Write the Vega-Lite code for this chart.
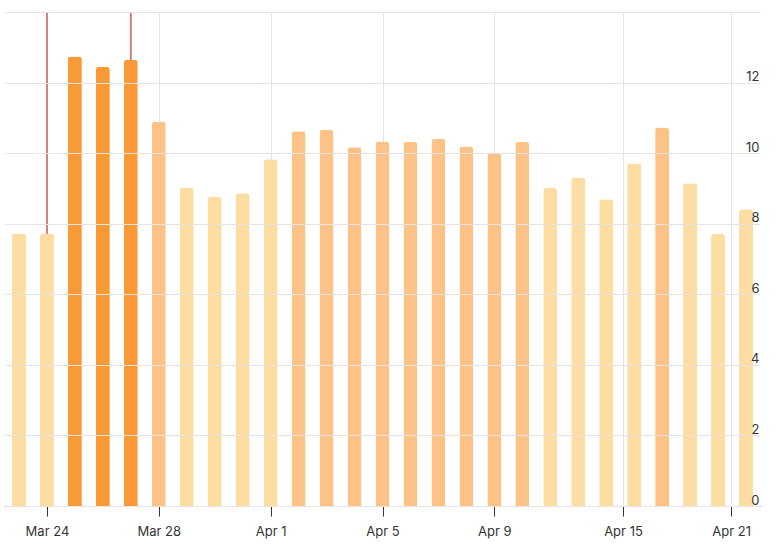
{
  "$schema": "https://vega.github.io/schema/vega-lite/v6.json",
  "width": 755,
  "height": 494,
  "autosize": {"type": "none"},
  "padding": {"left": 5, "top": 12, "right": 16, "bottom": 46},
  "background": "white",
  "config": {
    "view": {"stroke": null},
    "font": "Inter",
    "axis": {
      "labelFont": "Inter",
      "labelFontSize": 13,
      "labelColor": "#333333",
      "gridColor": "#e7e3e3",
      "gridWidth": 1
    }
  },
  "datasets": {
    "daily": [
      {"date": "2020-03-23", "value": 7.72},
      {"date": "2020-03-24", "value": 7.72},
      {"date": "2020-03-25", "value": 12.74},
      {"date": "2020-03-26", "value": 12.45},
      {"date": "2020-03-27", "value": 12.65},
      {"date": "2020-03-28", "value": 10.89},
      {"date": "2020-03-29", "value": 9.02},
      {"date": "2020-03-30", "value": 8.76},
      {"date": "2020-03-31", "value": 8.86},
      {"date": "2020-04-01", "value": 9.83},
      {"date": "2020-04-02", "value": 10.62},
      {"date": "2020-04-03", "value": 10.66},
      {"date": "2020-04-04", "value": 10.17},
      {"date": "2020-04-05", "value": 10.33},
      {"date": "2020-04-06", "value": 10.32},
      {"date": "2020-04-07", "value": 10.41},
      {"date": "2020-04-08", "value": 10.19},
      {"date": "2020-04-09", "value": 10.02},
      {"date": "2020-04-10", "value": 10.32},
      {"date": "2020-04-11", "value": 9.01},
      {"date": "2020-04-12", "value": 9.31},
      {"date": "2020-04-13", "value": 8.69},
      {"date": "2020-04-14", "value": 9.71},
      {"date": "2020-04-15", "value": 10.73},
      {"date": "2020-04-16", "value": 9.15},
      {"date": "2020-04-17", "value": 7.71},
      {"date": "2020-04-18", "value": 8.41}
    ],
    "events": [
      {"date": "2020-03-24"},
      {"date": "2020-03-27"}
    ]
  },
  "layer": [
    {
      "data": {"name": "events"},
      "mark": {"type": "rule", "color": "#c9827d", "strokeWidth": 2},
      "encoding": {
        "x": {"field": "date", "type": "temporal"}
      }
    },
    {
      "data": {"name": "daily"},
      "mark": {
        "type": "bar",
        "width": 14,
        "cornerRadiusTopLeft": 3,
        "cornerRadiusTopRight": 3
      },
      "encoding": {
        "x": {
          "field": "date",
          "type": "temporal",
          "title": null,
          "scale": {
            "type": "utc",
            "padding": 0,
            "domain": [
              {"year": 2020, "month": 3, "date": 22, "hours": 12, "utc": true},
              {"year": 2020, "month": 4, "date": 18, "hours": 12, "utc": true}
            ]
          },
          "axis": {
            "values": [
              {"year": 2020, "month": 3, "date": 24, "utc": true},
              {"year": 2020, "month": 3, "date": 28, "utc": true},
              {"year": 2020, "month": 4, "date": 1, "utc": true},
              {"year": 2020, "month": 4, "date": 5, "utc": true},
              {"year": 2020, "month": 4, "date": 9, "utc": true},
              {"year": 2020, "month": 4, "date": 13, "hours": 14, "minutes": 24, "utc": true},
              {"year": 2020, "month": 4, "date": 17, "hours": 11, "minutes": 15, "utc": true}
            ],
            "format": "%b %-d",
            "labelExpr": "datum.value > utc(2020, 3, 16) ? 'Apr 21' : datum.value > utc(2020, 3, 12) ? 'Apr 15' : datum.label",
            "grid": true,
            "domainColor": "#333333",
            "tickColor": "#333333",
            "tickSize": 10,
            "labelPadding": 9,
            "labelFlush": false
          }
        },
        "y": {
          "field": "value",
          "type": "quantitative",
          "title": null,
          "scale": {"domain": [0, 14], "nice": false},
          "axis": {
            "orient": "right",
            "values": [0, 2, 4, 6, 8, 10, 12, 14],
            "labelExpr": "datum.value == 14 ? '' : datum.label",
            "domain": false,
            "ticks": false,
            "tickSize": 0,
            "labelAlign": "right",
            "labelBaseline": "alphabetic",
            "labelPadding": -1,
            "labelOffset": -2,
            "labelFlush": false,
            "zindex": 1
          }
        },
        "color": {
          "field": "value",
          "type": "quantitative",
          "scale": {
            "type": "threshold",
            "domain": [10, 12],
            "range": ["#fedda2", "#fdc286", "#f99a36"]
          },
          "legend": null
        }
      }
    }
  ]
}
